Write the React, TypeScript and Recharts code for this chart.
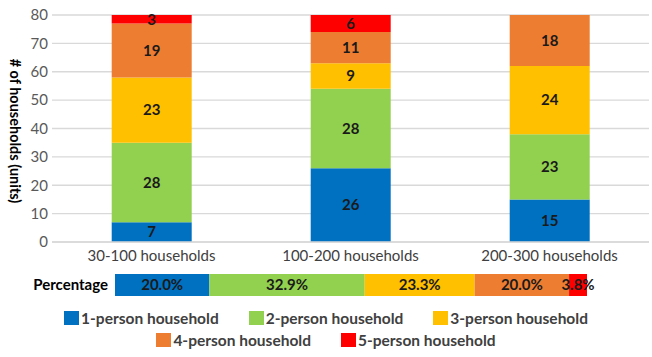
import { BarChart, Bar, XAxis, YAxis, CartesianGrid, LabelList, Legend } from "recharts";

const FONT = "Lato, 'Open Sans', sans-serif";

const categories = ["30-100 households", "100-200 households", "200-300 households"];
const seriesNames = ["1-person household", "2-person household", "3-person household", "4-person household", "5-person household"];
const seriesColors = ["#0070C0", "#92D050", "#FFC000", "#ED7D31", "#FF0000"];

const onePerson = [7, 26, 15];
const twoPerson = [28, 28, 23];
const threePerson = [23, 9, 24];
const fourPerson = [19, 11, 18];
const fivePerson = [3, 6, 0];

const percentages = [20.0, 32.9, 23.3, 20.0, 3.8];
const yTicks = [0, 10, 20, 30, 40, 50, 60, 70, 80];

const keys = ["p1", "p2", "p3", "p4", "p5"];
const allSeries = [onePerson, twoPerson, threePerson, fourPerson, fivePerson];

const mainRows = categories.map((name, i) => {
  const row: Record<string, any> = { name };
  keys.forEach((k, j) => (row[k] = allSeries[j][i]));
  return row;
});

const pctRow: Record<string, any> = { name: "Percentage" };
keys.forEach((k, j) => (pctRow[k] = percentages[j]));
const pctRows = [pctRow];

// axis title reads top-to-bottom in the original
function YLabel() {
  return (
    <text
      x={15}
      y={131}
      transform="rotate(90, 15, 131)"
      textAnchor="middle"
      dominantBaseline="central"
      fontFamily={FONT}
      fontWeight="bold"
      fontSize={14.5}
      fill="#000"
    >
      # of households (units)
    </text>
  );
}

function LegendBox(props: any) {
  const items = (props.payload ?? []) as any[];
  const rows = [items.slice(0, 3), items.slice(3)];
  return (
    <div style={{ height: 55, paddingTop: 11, boxSizing: "border-box", fontFamily: FONT }}>
      {rows.map((row, r) => (
        <div key={r} style={{ height: 22, display: "flex", justifyContent: "center", alignItems: "center" }}>
          {row.map((it, i) => (
            <div key={i} style={{ display: "flex", alignItems: "center", marginLeft: i ? 30 : 0 }}>
              <span style={{ width: 15, height: 14, background: it.color, marginRight: 2, display: "inline-block" }} />
              <span style={{ fontWeight: "bold", fontSize: 15.5, color: "#404040", whiteSpace: "nowrap" }}>{it.value}</span>
            </div>
          ))}
        </div>
      ))}
    </div>
  );
}

export default function App() {
  return (
    <div style={{ position: "absolute", left: 0, top: 0, width: 652, height: 357, background: "#fff", fontFamily: FONT }}>
      <BarChart width={652} height={265} data={mainRows} margin={{ top: 15, right: 3, left: 0, bottom: 0 }} barCategoryGap="30%">
        <CartesianGrid vertical={false} stroke="#d9d9d9" strokeWidth={1.3} />
        <XAxis
          dataKey="name"
          interval={0}
          height={23}
          axisLine={{ stroke: "#d9d9d9", strokeWidth: 1.3 }}
          tickLine={false}
          tickSize={0}
          tickMargin={8}
          tick={{ fill: "#404040", fontSize: 15, fontFamily: FONT }}
        />
        <YAxis
          domain={[0, 80]}
          ticks={yTicks}
          width={52}
          axisLine={false}
          tickLine={false}
          tickSize={0}
          tickMargin={4}
          tick={{ fill: "#595959", fontSize: 15, fontFamily: FONT }}
          label={{ content: YLabel }}
        />
        {keys.map((k, j) => (
          <Bar key={k} dataKey={k} name={seriesNames[j]} stackId="a" fill={seriesColors[j]} isAnimationActive={false}>
            <LabelList
              dataKey={k}
              position="center"
              formatter={(v: any) => (v ? v : "")}
              fill="#1a1a1a"
              fontWeight="bold"
              fontSize={15}
              fontFamily={FONT}
            />
          </Bar>
        ))}
      </BarChart>

      <BarChart
        width={652}
        height={92}
        data={pctRows}
        layout="vertical"
        margin={{ top: 9, right: 65, left: 0, bottom: 6 }}
        barCategoryGap={0}
      >
        <XAxis type="number" domain={[0, 100]} hide />
        <YAxis
          type="category"
          dataKey="name"
          width={115}
          axisLine={false}
          tickLine={false}
          tickSize={0}
          tickMargin={7}
          tick={{ fill: "#000", fontSize: 15, fontWeight: "bold", fontFamily: FONT }}
        />
        <Legend verticalAlign="bottom" content={LegendBox} wrapperStyle={{ left: 0, width: 652 }} />
        {keys.map((k, j) => (
          <Bar key={k} dataKey={k} name={seriesNames[j]} stackId="p" fill={seriesColors[j]} legendType="square" isAnimationActive={false}>
            <LabelList
              dataKey={k}
              position="center"
              formatter={(v: any) => `${Number(v).toFixed(1)}%`}
              fill="#1a1a1a"
              fontWeight="bold"
              fontSize={15}
              fontFamily={FONT}
            />
          </Bar>
        ))}
      </BarChart>
    </div>
  );
}
